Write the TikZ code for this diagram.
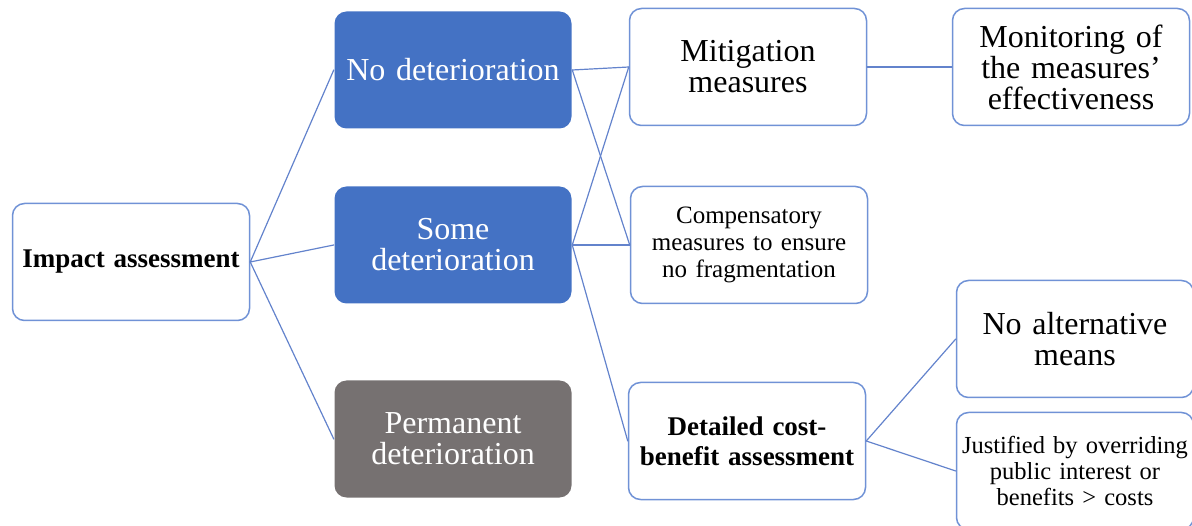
\documentclass[tikz,border=0pt]{standalone}
\usepackage{fontspec}
\setmainfont{Liberation Serif}
\definecolor{boxblue}{HTML}{4472C4}
\definecolor{edgeblue}{HTML}{7092D6}
\definecolor{linkblue}{HTML}{6383CC}
\definecolor{boxgray}{HTML}{767171}
\newcommand{\bigtext}{\fontsize{32}{31}\selectfont}
\newcommand{\midtext}{\fontsize{24.5}{26}\selectfont}
\newcommand{\boldtext}{\fontsize{27}{30}\selectfont\bfseries}

\begin{document}
\begin{tikzpicture}[x=1pt, y=-1pt, line join=round, line cap=round,
	box/.style={draw=edgeblue, line width=1.5pt, rounded corners=12pt, fill=white, minimum width=237pt, minimum height=117pt, text width=228pt, align=center, inner sep=0pt},
	stage/.style={box, draw=none, fill=boxblue, text=white, font=\bigtext},
	link/.style={draw=linkblue, line width=1.2pt}]
	\useasboundingbox (0,0) rectangle (1192,526);
	\clip (0,0) rectangle (1192,526);
	% root and the three outcomes
	\node[box, font=\boldtext] (impact) at (131,262) {Impact assessment};
	\node[stage] (nodet) at (453,70) {No deterioration};
	\node[stage] (somedet) at (453,245) {Some\\deterioration};
	\node[stage, fill=boxgray] (permdet) at (453,439) {Permanent\\deterioration};
	% measures
	\node[box, font=\bigtext] (mitig) at (748,67) {Mitigation\\measures};
	\node[box, font=\fontsize{25}{27}\selectfont] (comp) at (749,245) {Compensatory\\measures to ensure\\no fragmentation};
	\node[box, font=\boldtext] (costben) at (747,441) {Detailed cost-\\benefit assessment};
	\node[box, font=\bigtext] (monitor) at (1071,67) {Monitoring of\\the measures’\\effectiveness};
	\node[box, font=\bigtext] (noalt) at (1075,339) {No alternative\\means};
	\node[box, font=\midtext] (justif) at (1075,471) {Justified by overriding\\public interest or\\benefits > costs};
	% connectors
	\foreach \t in {nodet,somedet,permdet} \draw[link] (impact.east)--(\t.west);
	\foreach \t in {mitig,comp} \draw[link] (nodet.east)--(\t.west);
	\foreach \t in {mitig,comp,costben} \draw[link] (somedet.east)--(\t.west);
	\draw[link] (mitig.east)--(monitor.west);
	\foreach \t in {noalt,justif} \draw[link] (costben.east)--(\t.west);
\end{tikzpicture}
\end{document}
